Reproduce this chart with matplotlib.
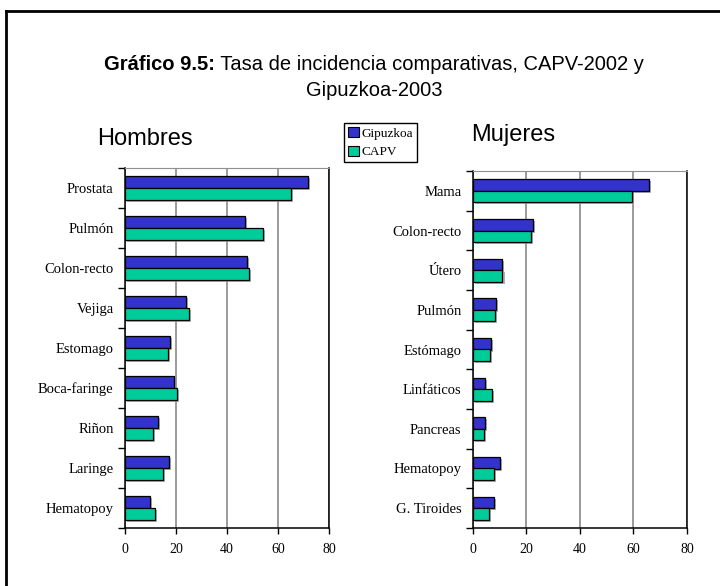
import matplotlib
matplotlib.use("Agg")
import matplotlib.pyplot as plt
import matplotlib.patheffects as pe
from matplotlib.lines import Line2D
from matplotlib.patches import Patch
import numpy as np

# Incidence rates per 100,000
hombres_cats = ["Prostata", "Pulmón", "Colon-recto", "Vejiga", "Estomago",
                "Boca-faringe", "Riñon", "Laringe", "Hematopoy"]
hombres_gipuzkoa = [71.7, 46.9, 47.7, 24.0, 17.8, 19.2, 13.0, 17.2, 10.0]
hombres_capv = [65.1, 54.2, 48.7, 25.0, 16.8, 20.3, 10.9, 15.1, 11.7]

mujeres_cats = ["Mama", "Colon-recto", "Útero", "Pulmón", "Estómago",
                "Linfáticos", "Pancreas", "Hematopoy", "G. Tiroides"]
mujeres_gipuzkoa = [65.9, 22.4, 10.8, 8.8, 6.9, 4.7, 4.7, 10.1, 7.8]
mujeres_capv = [59.6, 21.6, 11.1, 8.4, 6.6, 7.1, 4.3, 8.1, 6.0]

x_ticks = [0, 20, 40, 60, 80]
series_names = ["Gipuzkoa", "CAPV"]

BLUE = "#3333CC"
GREEN = "#00CC99"
SERIF = "Liberation Serif"
SANS = "Liberation Sans"

W, H = 720, 586
fig = plt.figure(figsize=(W / 100, H / 100), dpi=100)


def fx(px):
    return px / W


def fy(py):
    return 1 - py / H


shadow = [pe.SimplePatchShadow(offset=(1.5, -1.5), shadow_rgbFace="#999999", alpha=0.8),
          pe.Normal()]


def panel(rect, cats, gip, capv):
    ax = fig.add_axes(rect)
    n = len(cats)
    y = np.arange(n)
    h = 0.29
    ax.barh(y - h / 2, gip, height=h, color=BLUE, edgecolor="black",
            linewidth=0.9, path_effects=shadow, zorder=3)
    ax.barh(y + h / 2, capv, height=h, color=GREEN, edgecolor="black",
            linewidth=0.9, path_effects=shadow, zorder=3)
    ax.set_xlim(0, 80)
    ax.set_ylim(n - 0.5, -0.5)
    ax.set_xticks(x_ticks)
    ax.set_xticklabels([str(t) for t in x_ticks], family=SERIF, fontsize=10)
    ax.tick_params(axis="x", direction="out", length=4, width=1, pad=7)
    # category labels sit between the boundary ticks
    ax.set_yticks(np.arange(n + 1) - 0.5)
    ax.set_yticklabels([])
    ax.set_yticks(y, minor=True)
    ax.set_yticklabels(cats, minor=True, family=SERIF, fontsize=10.5)
    ax.tick_params(axis="y", which="major", direction="out", length=5, width=1)
    ax.tick_params(axis="y", which="minor", length=0, pad=8)
    ax.grid(axis="x", color="#808080", linewidth=1.1, zorder=0)
    ax.set_axisbelow(True)
    ax.spines["top"].set_color("#909090")
    for s in ("left", "bottom", "right"):
        ax.spines[s].set_color("black")
        ax.spines[s].set_linewidth(1.1)
    return ax


panel([fx(124.7), fy(528), fx(329.3) - fx(124.7), fy(168) - fy(528)],
      hombres_cats, hombres_gipuzkoa, hombres_capv)
panel([fx(472.7), fy(528), fx(687) - fx(472.7), fy(171) - fy(528)],
      mujeres_cats, mujeres_gipuzkoa, mujeres_capv)

# Title: bold lead followed by regular text
fig.canvas.draw()
renderer = fig.canvas.get_renderer()
TITLE_SIZE = 14.5
t_bold = fig.text(0, fy(64), "Gráfico 9.5:", family=SANS, fontsize=TITLE_SIZE,
                  fontweight="bold", va="center", ha="left")
t_rest = fig.text(0, fy(64), " Tasa de incidencia comparativas, CAPV-2002 y",
                  family=SANS, fontsize=TITLE_SIZE, va="center", ha="left")
wb = t_bold.get_window_extent(renderer).width
wr = t_rest.get_window_extent(renderer).width
x0 = 374 - (wb + wr) / 2
t_bold.set_x(fx(x0))
t_rest.set_x(fx(x0 + wb))
fig.text(fx(374), fy(90), "Gipuzkoa-2003", family=SANS, fontsize=TITLE_SIZE,
         va="center", ha="center")

fig.text(fx(145), fy(139), "Hombres", family=SANS, fontsize=17,
         va="center", ha="center")
fig.text(fx(513), fy(135), "Mujeres", family=SANS, fontsize=17,
         va="center", ha="center")

handles = [Patch(facecolor=BLUE, edgecolor="black", linewidth=0.8),
           Patch(facecolor=GREEN, edgecolor="black", linewidth=0.8)]
fig.legend(handles, series_names, loc="upper left",
           bbox_to_anchor=(fx(344), fy(123)), frameon=True, fancybox=False,
           edgecolor="black", framealpha=1, borderpad=0.3, handlelength=0.8,
           handleheight=0.8, handletextpad=0.25, labelspacing=0.45,
           borderaxespad=0, prop={"family": SERIF, "size": 9.5})

# outer frame around the figure
fig.add_artist(Line2D([fx(6), fx(6)], [fy(11), 0], color="black", linewidth=2,
                      transform=fig.transFigure))
fig.add_artist(Line2D([fx(6), 1], [fy(11), fy(11)], color="black", linewidth=2,
                      transform=fig.transFigure))

fig.savefig("out.png", dpi=100)
